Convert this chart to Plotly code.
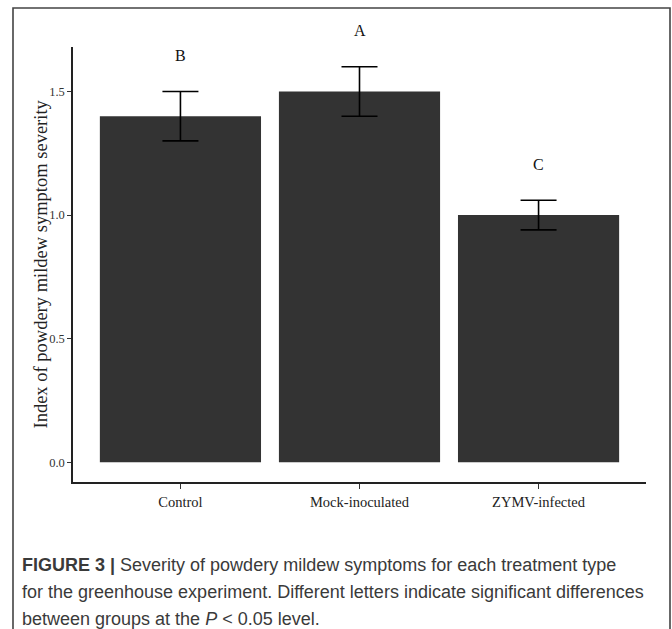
import plotly.graph_objects as go

# Treatment groups and mean severity index with error bar limits
treatments = ["Control", "Mock-inoculated", "ZYMV-infected"]
severity = [1.40, 1.50, 1.00]
err_upper = [0.10, 0.10, 0.06]
err_lower = [0.10, 0.10, 0.06]
group_letters = ["B", "A", "C"]
y_ticks = [0.0, 0.5, 1.0, 1.5]

W, H = 672, 629
L, R, T, B = 73, 26, 47, 147
pw, ph = W - L - R, H - T - B


def px_x(x):
    return (x - L) / pw


def px_y(y):
    return 1 - (y - T) / ph


serif = "Liberation Serif, Times New Roman, serif"
sans = "Liberation Sans, Arial, sans-serif"

fig = go.Figure()
fig.add_trace(go.Bar(
    x=treatments,
    y=severity,
    width=0.9,
    marker=dict(color="#333333", line=dict(width=0)),
    error_y=dict(type="data", symmetric=False, array=err_upper,
                 arrayminus=err_lower, color="#000000",
                 thickness=1.6, width=18),
    showlegend=False,
))

annotations = []
# significance letters, anchored on the top of each error bar and lifted above it
for t, v, e, lab in zip(treatments, severity, err_upper, group_letters):
    annotations.append(dict(
        x=t, y=v + e, xref="x", yref="y", text=lab,
        showarrow=False, font=dict(family=serif, size=16, color="#111111"),
        xanchor="center", yanchor="middle", yshift=36))

# y-axis title
annotations.append(dict(
    x=px_x(40), y=0.5, xref="paper", yref="paper",
    text="Index of powdery mildew symptom severity", textangle=-90,
    showarrow=False, font=dict(family=serif, size=18.5, color="#222222"),
    xanchor="center", yanchor="middle"))

# figure caption
caption_lines = [
    "<b>FIGURE 3 |</b> Severity of powdery mildew symptoms for each treatment type",
    "for the greenhouse experiment. Different letters indicate significant differences",
    "between groups at the <i>P</i> &lt; 0.05 level.",
]
for i, line in enumerate(caption_lines):
    annotations.append(dict(
        x=px_x(20), y=px_y(565 + 27 * i), xref="paper", yref="paper",
        text=line, showarrow=False, align="left",
        font=dict(family=sans, size=18, color="#3a3a3a"),
        xanchor="left", yanchor="middle"))

fig.update_layout(
    width=W, height=H,
    margin=dict(l=L, r=R, t=T, b=B, pad=0),
    paper_bgcolor="white", plot_bgcolor="white",
    bargap=0.1,
    annotations=annotations,
    shapes=[dict(
        type="rect", xref="paper", yref="paper",
        x0=px_x(13), x1=px_x(670), y0=px_y(660), y1=px_y(8),
        line=dict(color="#444444", width=1.6), fillcolor="rgba(0,0,0,0)",
        layer="above")],
    xaxis=dict(
        range=[-0.6, 2.6], showgrid=False, zeroline=False,
        showline=True, linecolor="#222222", linewidth=1.5,
        ticks="outside", ticklen=5, tickcolor="#333333", tickwidth=1,
        tickfont=dict(family=serif, size=14.5, color="#222222"),
        ticklabelstandoff=1),
    yaxis=dict(
        range=[-0.08, 1.68], showgrid=False, zeroline=False,
        showline=True, linecolor="#222222", linewidth=1.5,
        tickvals=y_ticks, ticktext=[f"{v:.1f}" for v in y_ticks],
        ticks="outside", ticklen=4, tickcolor="#333333", tickwidth=1,
        tickfont=dict(family=serif, size=12.5, color="#333333")),
)

fig.write_html("out.html")
